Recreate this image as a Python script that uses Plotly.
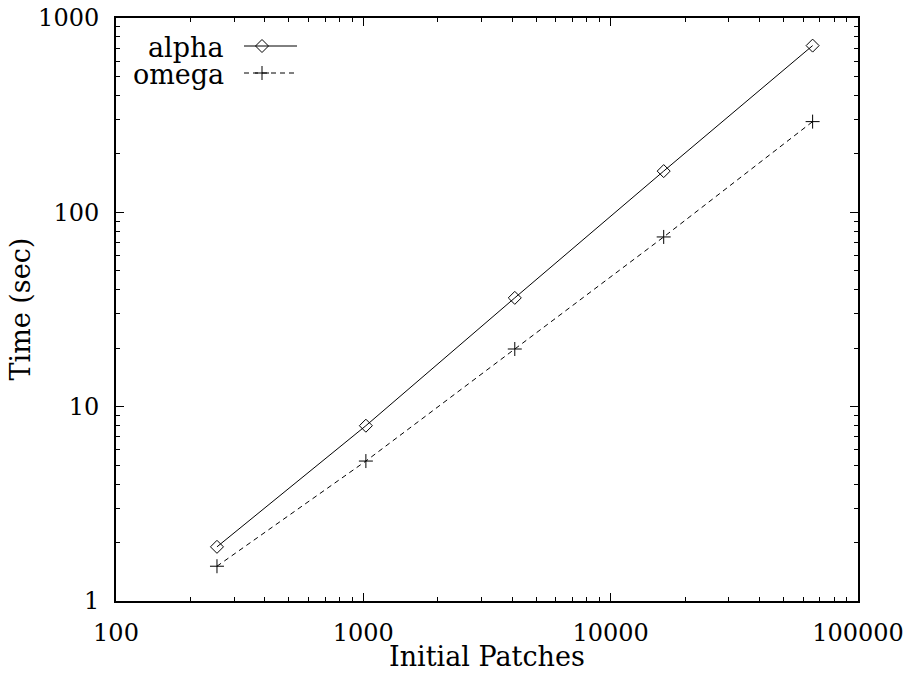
import plotly.graph_objects as go

patches = [256, 1024, 4096, 16384, 65536]
alpha_time = [1.90, 7.98, 36.3, 163, 721]
omega_time = [1.51, 5.25, 19.8, 74.7, 293]

x_tickvals = [100, 1000, 10000, 100000]
x_ticktext = ["100", "1000", "10000", "100000"]
y_tickvals = [1, 10, 100, 1000]
y_ticktext = ["1", "10", "100", "1000"]

FONT = "DejaVu Serif"
FS_TICK = 24
FS_TITLE = 27
FS_KEY = 27

W, H = 908, 675
L, R, T, B = 116, 50, 18, 74
PW, PH = W - L - R, H - T - B

def minor_vals(lo, hi):
    out = []
    d = lo
    while d < hi:
        for k in range(2, 10):
            out.append(k * d)
        d *= 10
    return out

fig = go.Figure()
fig.add_trace(go.Scatter(
    x=patches, y=alpha_time, mode="lines+markers", name="alpha",
    line=dict(color="black", width=1),
    marker=dict(symbol="diamond-open", size=10, color="black", line=dict(width=1)),
    showlegend=False))
fig.add_trace(go.Scatter(
    x=patches, y=omega_time, mode="lines+markers", name="omega",
    line=dict(color="black", width=1, dash="5px,4px"),
    marker=dict(symbol="cross-thin-open", size=10, color="black", line=dict(width=1, color="black")),
    showlegend=False))

# custom gnuplot-style legend (key) on overlay axes in pixel units of the plot area
legend_names = ["alpha", "omega"]
legend_rows = [28, 55]
legend_line = [128, 181]
legend_mark = 146
for name, yrow, tr in zip(legend_names, legend_rows, fig.data):
    fig.add_trace(go.Scatter(
        x=legend_line, y=[yrow, yrow], mode="lines", xaxis="x2", yaxis="y2",
        line=tr.line, showlegend=False, hoverinfo="skip"))
    fig.add_trace(go.Scatter(
        x=[legend_mark], y=[yrow], mode="markers", xaxis="x2", yaxis="y2",
        marker=tr.marker, showlegend=False, hoverinfo="skip"))
    fig.add_annotation(x=legend_line[0] - 18, y=yrow + 1, xref="x2", yref="y2",
                       text=name, showarrow=False, xanchor="right", yanchor="middle",
                       font=dict(family=FONT, size=FS_KEY, color="black"))

# axis titles
fig.add_annotation(x=0.5, y=-56 / PH, xref="paper", yref="paper",
                   text="Initial Patches", showarrow=False, xanchor="center", yanchor="middle",
                   font=dict(family=FONT, size=FS_TITLE, color="black"))
fig.add_annotation(x=-96 / PW, y=0.5, xref="paper", yref="paper",
                   text="Time (sec)", showarrow=False, xanchor="center", yanchor="middle",
                   textangle=-90, font=dict(family=FONT, size=FS_TITLE, color="black"))

axis_common = dict(
    type="log", showline=True, linecolor="black", linewidth=2, mirror="ticks",
    ticks="inside", ticklen=8, tickwidth=1, tickcolor="black",
    showgrid=False, zeroline=False, automargin=False, ticklabeloverflow="allow",
    tickfont=dict(family=FONT, size=FS_TICK, color="black"),
)

fig.update_layout(
    width=W, height=H,
    margin=dict(l=L, r=R, t=T, b=B),
    paper_bgcolor="white", plot_bgcolor="white",
    xaxis=dict(**axis_common, range=[2, 5], tickmode="array",
               tickvals=x_tickvals, ticktext=x_ticktext,
               ticklabelstandoff=9,
               minor=dict(ticks="inside", ticklen=4, tickwidth=1, tickcolor="black",
                          tickvals=minor_vals(100, 100000), showgrid=False)),
    yaxis=dict(**axis_common, range=[0, 3], tickmode="array",
               tickvals=y_tickvals, ticktext=y_ticktext,
               ticklabelstandoff=10,
               minor=dict(ticks="inside", ticklen=4, tickwidth=1, tickcolor="black",
                          tickvals=minor_vals(1, 1000), showgrid=False)),
    xaxis2=dict(overlaying="x", range=[0, PW], visible=False, fixedrange=True),
    yaxis2=dict(overlaying="y", range=[PH, 0], visible=False, fixedrange=True),
)

fig.write_html("out.html",
               config={"displayModeBar": False},
               post_script="document.body.style.margin='0';document.body.style.overflow='hidden';")
